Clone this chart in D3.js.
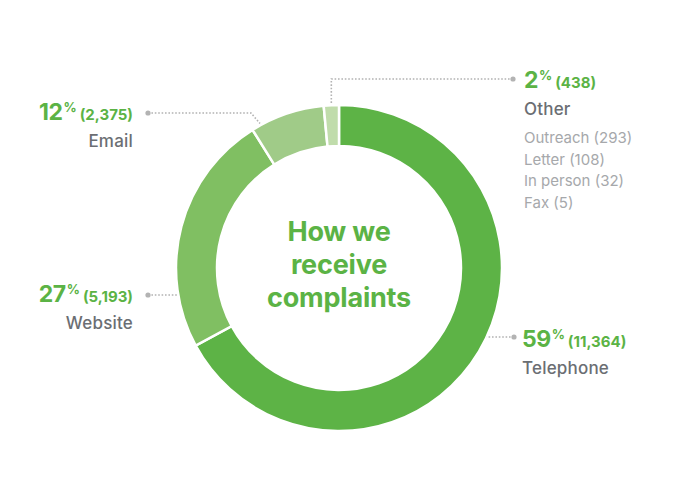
<!doctype html>
<html lang="en">
<head>
  <meta charset="UTF-8">
  <title>How we receive complaints</title>
  <script src="https://cdnjs.cloudflare.com/ajax/libs/d3/7.8.5/d3.min.js"></script>
  <style>
  body { margin: 0; background: #fff; }
  svg { display: block; font-family: Inter, "Noto Sans", sans-serif; }
  </style>
</head>
<body>
<script>

// channels, clockwise from 12 o'clock
var channels = ["Telephone", "Website", "Email", "Other"];
var counts = [11364, 5193, 2375, 438];
var shares = [59, 27, 12, 2];
// ring segment sizes (%) as drawn in the original graphic
var arcShares = [67.1, 24.0, 7.4, 1.5];
var sliceColours = ["#5db346", "#80bf62", "#a0cb88", "#c0dcab"];

// breakdown of "Other"
var otherItems = ["Outreach", "Letter", "In person", "Fax"];
var otherCounts = [293, 108, 32, 5];

var w = 688;
var h = 480;
var cx = 339, cy = 268;
var rOuter = 163, rInner = 122;

var green = "#5bb345";
var grey = "#6b6e73";
var lightGrey = "#a6a8ab";
var lineGrey = "#b3b3b3";
var fmt = d3.format(",");

var svg = d3.select('body')
  .append('svg')
  .attr('width', w)
  .attr('height', h);

var g = svg.append('g')
  .attr('transform', 'translate(' + cx + ',' + cy + ')');

var pie = d3.pie().sort(null).value(function(d) { return d; });
var arcs = pie(arcShares);

var arc = d3.arc().innerRadius(rInner).outerRadius(rOuter);

g.selectAll('path')
  .data(arcs)
  .enter()
  .append('path')
  .attr('d', arc)
  .attr('fill', function(d, i) { return sliceColours[i]; })
  .attr('stroke', '#fff')
  .attr('stroke-width', 2.5);

// centre title
g.append('text')
  .attr('text-anchor', 'middle')
  .attr('fill', green)
  .attr('font-weight', 700)
  .attr('font-size', 27)
  .selectAll('tspan')
  .data(["How we", "receive", "complaints"])
  .enter()
  .append('tspan')
  .attr('x', 0)
  .attr('y', function(d, i) { return -27 + i * 33; })
  .attr('letter-spacing', -0.2)
  .text(function(d) { return d; });

// label layout: dot position, text position, and how the leader reaches the ring
var labelLayout = [
  { dot: [514, 337], side: 'right', tx: 522, ty: 347, leader: 'flat' },
  { dot: [148, 295], side: 'left', tx: 133, ty: 302, leader: 'flat' },
  { dot: [148, 113], side: 'left', tx: 133, ty: 120, leader: 'bent', elbow: 251, aim: 331 },
  { dot: [513, 79], side: 'right', tx: 524, ty: 88, leader: 'down' }
];

function edgePoint(a) {
  return [cx + rOuter * Math.sin(a), cy - rOuter * Math.cos(a)];
}

var leaders = svg.append('g');

arcs.forEach(function(d, i) {
  var L = labelLayout[i];
  var mid = (d.startAngle + d.endAngle) / 2;
  var pts;
  if (L.leader === 'flat') {
    var dy = L.dot[1] - cy;
    var dx = Math.sqrt(rOuter * rOuter - dy * dy);
    var ex = L.side === 'right' ? cx + dx : cx - dx;
    pts = [L.dot, [ex, L.dot[1]]];
  } else if (L.leader === 'bent') {
    var e = edgePoint(L.aim * Math.PI / 180);
    pts = [L.dot, [L.elbow, L.dot[1]], [e[0], e[1] - 2]];
  } else {
    var e2 = edgePoint(mid);
    pts = [L.dot, [e2[0], L.dot[1]], [e2[0], e2[1] - 2]];
  }
  leaders.append('path')
    .attr('d', d3.line()(pts))
    .attr('fill', 'none')
    .attr('stroke', lineGrey)
    .attr('stroke-width', 1.6)
    .attr('stroke-dasharray', '1.6,1.8');
  leaders.append('circle')
    .attr('cx', L.dot[0])
    .attr('cy', L.dot[1])
    .attr('r', 2.6)
    .attr('fill', lineGrey);

  var anchor = L.side === 'right' ? 'start' : 'end';
  var t = svg.append('text')
    .attr('x', L.tx)
    .attr('y', L.ty)
    .attr('text-anchor', anchor)
    .attr('fill', green)
    .attr('font-weight', 700);
  t.append('tspan').attr('font-size', 23).attr('letter-spacing', -0.5).text(shares[i]);
  t.append('tspan').attr('font-size', 13).attr('dy', -8).attr('dx', 1).text('%');
  t.append('tspan').attr('font-size', 15).attr('dy', 8).attr('dx', 3).text('(' + fmt(counts[i]) + ')');

  svg.append('text')
    .attr('x', L.tx)
    .attr('y', L.ty + 27)
    .attr('text-anchor', anchor)
    .attr('fill', grey)
    .attr('font-size', 17)
    .attr('font-weight', 500)
    .attr('letter-spacing', 0.2)
    .text(channels[i]);
});

// breakdown under "Other"
svg.append('g')
  .selectAll('text')
  .data(otherItems)
  .enter()
  .append('text')
  .attr('x', 524)
  .attr('y', function(d, i) { return 143 + i * 21.5; })
  .attr('fill', lightGrey)
  .attr('font-size', 15)
  .text(function(d, i) { return d + ' (' + otherCounts[i] + ')'; });

</script>
</body>
</html>
